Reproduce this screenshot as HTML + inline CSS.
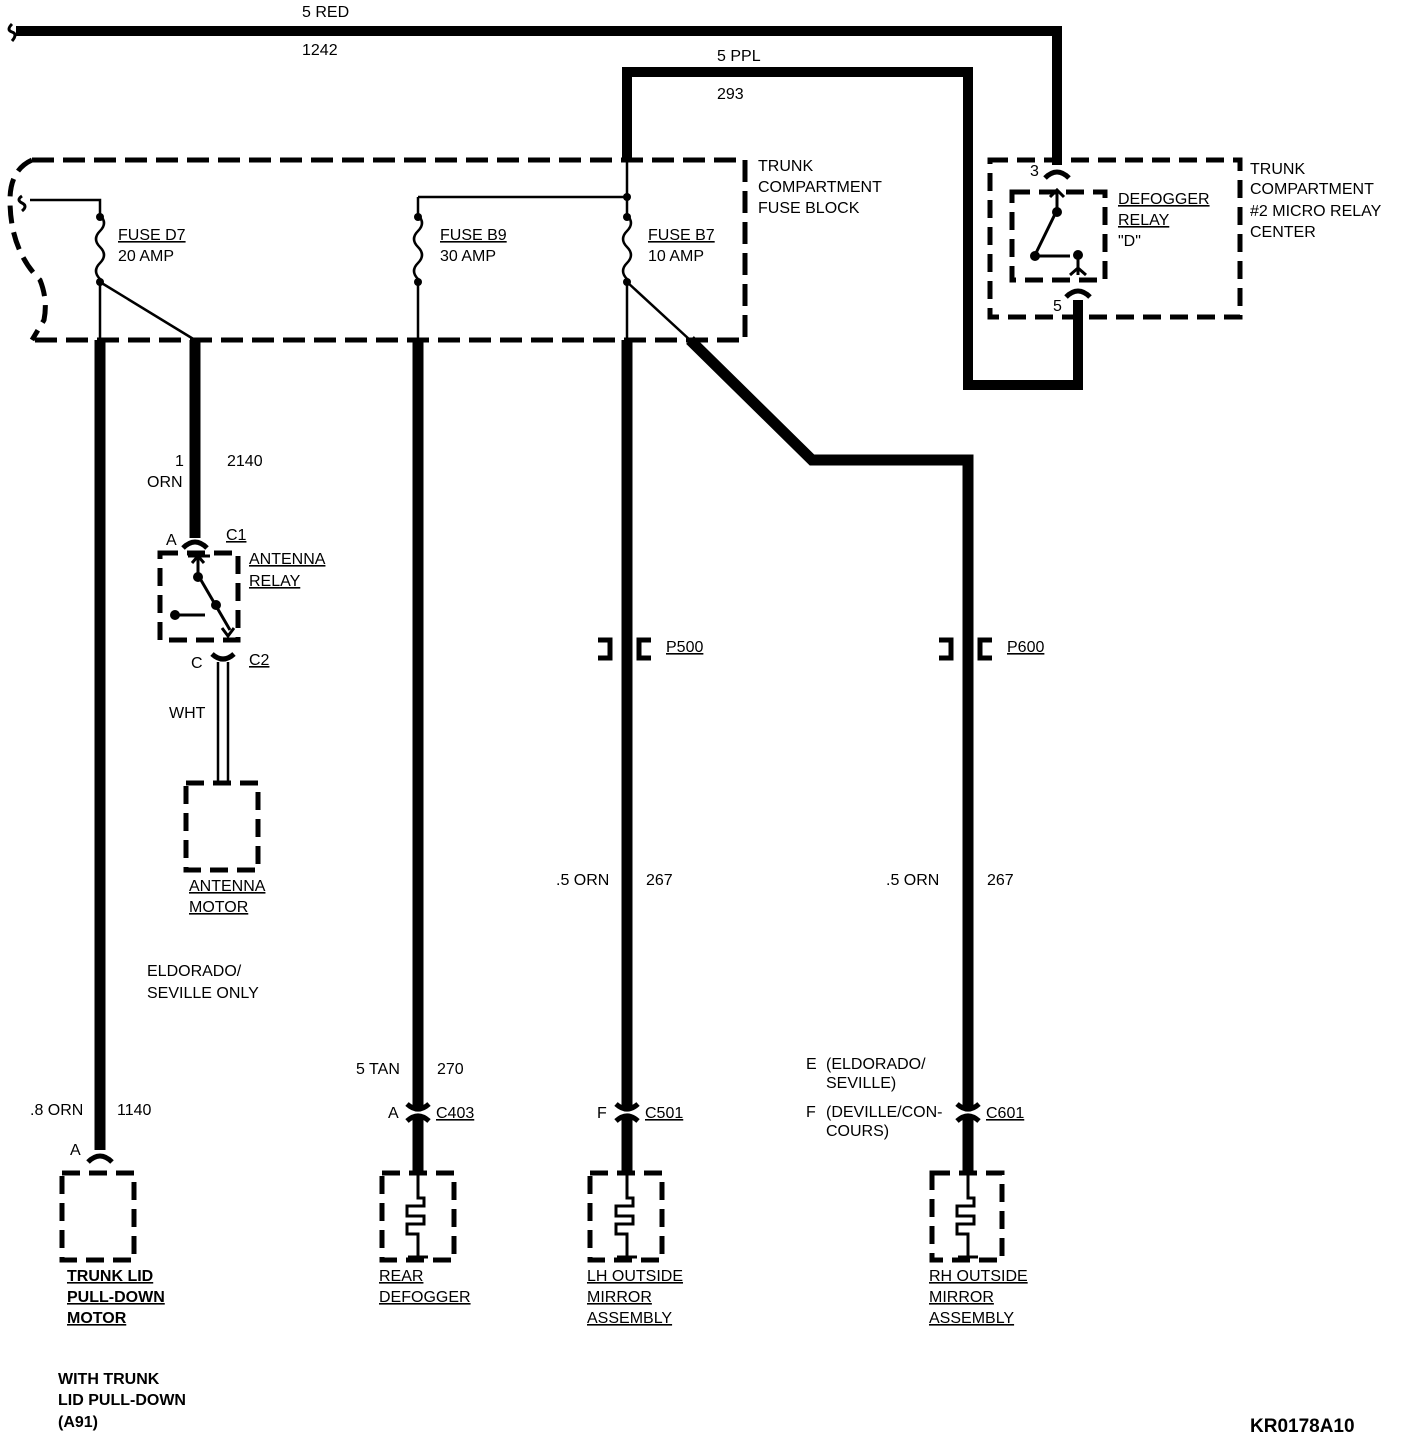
<!DOCTYPE html>
<html><head><meta charset="utf-8"><style>
html,body{margin:0;padding:0;background:#fff;}
svg{display:block;}
text{font-family:"Liberation Sans",Arial,sans-serif;font-size:16px;fill:#000;}
.u{text-decoration:underline;}
.b{font-weight:bold;}
</style></head><body>
<svg width="1408" height="1440" viewBox="0 0 1408 1440" xmlns="http://www.w3.org/2000/svg">
<g fill="none" stroke="#000" stroke-linejoin="miter">
<path d="M16 31 H1057 V165" stroke-width="10"/>
<path d="M12 24 q-6 6 0 8 q6 2 0 9" stroke-width="3"/>
<path d="M627 160 V72 H968 V385 H1078 V300" stroke-width="10"/>
<path d="M32 160 H745 V340 H30" stroke-width="5" stroke-dasharray="22,9"/>
<path d="M32 160 Q10 170 10 200 Q10 250 40 280 Q48 300 44 320 L32 340" stroke-width="5" stroke-dasharray="18,9"/>
<path d="M30 200 H100 V215 q8 8 0 16 q-8 8 0 16 q8 8 0 16 q-8 8 0 16 V340" stroke-width="2.5"/>
<path d="M100 282 L195 340" stroke-width="2.5"/>
<path d="M418 197 H627 M418 197 V215 q8 8 0 16 q-8 8 0 16 q8 8 0 16 q-8 8 0 16 V340" stroke-width="2.5"/>
<path d="M627 160 V215 q8 8 0 16 q-8 8 0 16 q8 8 0 16 q-8 8 0 16 V340" stroke-width="2.5"/>
<path d="M627 282 L690 340" stroke-width="2.5"/>
<path d="M22 196 q-6 4 0 7 q6 3 0 8" stroke-width="3"/>
<path d="M100 340 V1150" stroke-width="11"/>
<path d="M195 340 V538" stroke-width="11"/>
<path d="M418 340 V1175" stroke-width="11"/>
<path d="M627 340 V1175" stroke-width="11"/>
<path d="M690 340 L812 460 H968 V1175" stroke-width="11"/>
<path d="M218 662 V782 M228 662 V782" stroke-width="2.5"/>
<path d="M160 553 H238 V640 H160 Z" stroke-width="5" stroke-dasharray="18,9"/>
<path d="M198 556 V575 L230 630 M175 615 H205" stroke-width="3"/>
<path d="M188 556 H210 M192 563 L198 556 L204 563 M222 628 L228 636 L234 628" stroke-width="3"/>
<path d="M186 783 H258 V870 H186 Z" stroke-width="5" stroke-dasharray="18,9"/>
<path d="M990 160 H1240 V317 H990 Z" stroke-width="5" stroke-dasharray="18,9"/>
<path d="M1012 192 H1105 V280 H1012 Z" stroke-width="5" stroke-dasharray="18,9"/>
<path d="M1057 190 V210 L1035 255 M1035 256 H1070 M1078 255 V275" stroke-width="3"/>
<path d="M1050 197 L1057 190 L1064 197 M1070 275 L1078 268 L1086 275" stroke-width="3"/>
<path d="M62 1173 H134 V1260 H62 Z" stroke-width="5" stroke-dasharray="18,9"/>
<path d="M382 1173 H454 V1260 H382 Z" stroke-width="5" stroke-dasharray="18,9"/>
<path d="M590 1173 H662 V1260 H590 Z" stroke-width="5" stroke-dasharray="18,9"/>
<path d="M932 1173 H1002 V1260 H932 Z" stroke-width="5" stroke-dasharray="18,9"/>
<path d="M418 1175 V1198 H424 V1206 H407 V1216 H424 V1224 H407 V1234 H418 V1257 M408 1257 H428" stroke-width="3"/>
<path d="M627 1175 V1198 H633 V1206 H616 V1216 H633 V1224 H616 V1234 H627 V1257 M617 1257 H637" stroke-width="3"/>
<path d="M968 1175 V1198 H974 V1206 H957 V1216 H974 V1224 H957 V1234 H968 V1257 M958 1257 H978" stroke-width="3"/>
<path d="M88 1162 q12 -12 24 0" stroke-width="5"/>
<path d="M183 548 q12 -12 24 0" stroke-width="5"/>
<path d="M212 654 q11 10 22 0" stroke-width="5"/>
<path d="M1045 178 q12 -12 24 0" stroke-width="5"/>
<path d="M1066 297 q12 -12 24 0" stroke-width="5"/>
<path d="M598 640 H610 V658 H598 M651 640 H639 V658 H651" stroke-width="5"/>
<path d="M939 640 H951 V658 H939 M992 640 H980 V658 H992" stroke-width="5"/>
</g>
<g fill="#fff">
<rect x="405" y="1109" width="26" height="7"/>
<rect x="614" y="1109" width="26" height="7"/>
<rect x="955" y="1109" width="26" height="7"/>
</g>
<g fill="none" stroke="#000" stroke-width="5">
<path d="M407 1104 q11 10 22 0 M407 1121 q11 -10 22 0"/>
<path d="M616 1104 q11 10 22 0 M616 1121 q11 -10 22 0"/>
<path d="M957 1104 q11 10 22 0 M957 1121 q11 -10 22 0"/>
</g>
<g fill="#000">
<circle cx="100" cy="217" r="4"/><circle cx="100" cy="282" r="4"/>
<circle cx="418" cy="217" r="4"/><circle cx="418" cy="282" r="4"/>
<circle cx="627" cy="197" r="4"/><circle cx="627" cy="217" r="4"/><circle cx="627" cy="282" r="4"/>
<circle cx="198" cy="577" r="5"/><circle cx="216" cy="605" r="5"/><circle cx="175" cy="615" r="5"/>
<circle cx="1057" cy="212" r="5"/><circle cx="1035" cy="256" r="5"/><circle cx="1078" cy="255" r="5"/>
</g>
<text x="302" y="17">5 RED</text>
<text x="302" y="55">1242</text>
<text x="717" y="61">5 PPL</text>
<text x="717" y="99">293</text>
<text x="758" y="171">TRUNK</text>
<text x="758" y="192">COMPARTMENT</text>
<text x="758" y="213">FUSE BLOCK</text>
<text x="1250" y="174">TRUNK</text>
<text x="1250" y="194">COMPARTMENT</text>
<text x="1250" y="216">#2 MICRO RELAY</text>
<text x="1250" y="237">CENTER</text>
<text x="1030" y="176">3</text>
<text x="1053" y="311">5</text>
<text x="1118" y="204" class="u">DEFOGGER</text>
<text x="1118" y="225" class="u">RELAY</text>
<text x="1118" y="246">"D"</text>
<text x="118" y="240" class="u">FUSE D7</text>
<text x="118" y="261">20 AMP</text>
<text x="440" y="240" class="u">FUSE B9</text>
<text x="440" y="261">30 AMP</text>
<text x="648" y="240" class="u">FUSE B7</text>
<text x="648" y="261">10 AMP</text>
<text x="175" y="466">1</text>
<text x="147" y="487">ORN</text>
<text x="227" y="466">2140</text>
<text x="166" y="545">A</text>
<text x="226" y="540" class="u">C1</text>
<text x="249" y="564" class="u">ANTENNA</text>
<text x="249" y="586" class="u">RELAY</text>
<text x="191" y="668">C</text>
<text x="249" y="665" class="u">C2</text>
<text x="169" y="718">WHT</text>
<text x="189" y="891" class="u">ANTENNA</text>
<text x="189" y="912" class="u">MOTOR</text>
<text x="147" y="976">ELDORADO/</text>
<text x="147" y="998">SEVILLE ONLY</text>
<text x="666" y="652" class="u">P500</text>
<text x="1007" y="652" class="u">P600</text>
<text x="556" y="885">.5 ORN</text>
<text x="646" y="885">267</text>
<text x="886" y="885">.5 ORN</text>
<text x="987" y="885">267</text>
<text x="356" y="1074">5 TAN</text>
<text x="437" y="1074">270</text>
<text x="30" y="1115">.8 ORN</text>
<text x="117" y="1115">1140</text>
<text x="70" y="1155">A</text>
<text x="388" y="1118">A</text>
<text x="436" y="1118" class="u">C403</text>
<text x="597" y="1118">F</text>
<text x="645" y="1118" class="u">C501</text>
<text x="806" y="1069">E</text>
<text x="826" y="1069">(ELDORADO/</text>
<text x="826" y="1088">SEVILLE)</text>
<text x="806" y="1117">F</text>
<text x="826" y="1117">(DEVILLE/CON-</text>
<text x="826" y="1136">COURS)</text>
<text x="986" y="1118" class="u">C601</text>
<text x="67" y="1281" class="u b">TRUNK LID</text>
<text x="67" y="1302" class="u b">PULL-DOWN</text>
<text x="67" y="1323" class="u b">MOTOR</text>
<text x="379" y="1281" class="u">REAR</text>
<text x="379" y="1302" class="u">DEFOGGER</text>
<text x="587" y="1281" class="u">LH OUTSIDE</text>
<text x="587" y="1302" class="u">MIRROR</text>
<text x="587" y="1323" class="u">ASSEMBLY</text>
<text x="929" y="1281" class="u">RH OUTSIDE</text>
<text x="929" y="1302" class="u">MIRROR</text>
<text x="929" y="1323" class="u">ASSEMBLY</text>
<text x="58" y="1384" class="b">WITH TRUNK</text>
<text x="58" y="1405" class="b">LID PULL-DOWN</text>
<text x="58" y="1427" class="b">(A91)</text>
<text x="1250" y="1432" class="b" style="font-size:19px">KR0178A10</text>
</svg>
</body></html>
